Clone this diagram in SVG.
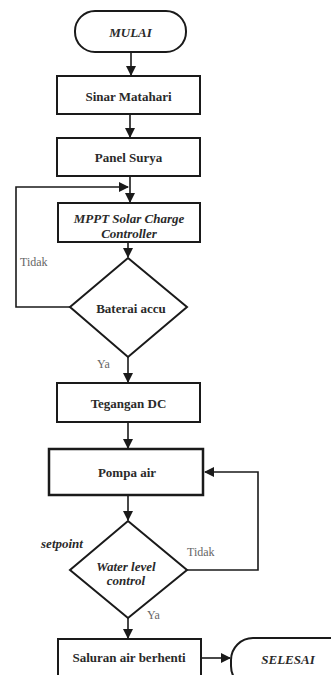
<svg xmlns="http://www.w3.org/2000/svg" width="331" height="675" viewBox="0 0 331 675">
<style>
.box{fill:#fff;stroke:#1a1a1a;stroke-width:2}
.t{font-family:'Liberation Serif','DejaVu Serif',serif;font-weight:bold;font-size:13px;fill:#2a2a2a;text-anchor:middle;dominant-baseline:central}
.i{font-style:italic}
.lbl{font-family:'Liberation Serif','DejaVu Serif',serif;font-size:12px;fill:#666;dominant-baseline:central}
.c{fill:none;stroke:#1a1a1a;stroke-width:1.6}
</style>
<defs>
<marker id="ah" markerWidth="10" markerHeight="10" refX="9" refY="5" orient="auto" markerUnits="userSpaceOnUse">
<path d="M0,0 L10,5 L0,10 z" fill="#1a1a1a"/>
</marker>
</defs>
<rect width="331" height="675" fill="#fff"/>
<g id="connectors">
<path class="c" d="M131,52 V75" marker-end="url(#ah)"/>
<path class="c" d="M130,114 V137" marker-end="url(#ah)"/>
<path class="c" d="M130,176 V202" marker-end="url(#ah)"/>
<path class="c" d="M70,307 H16 V187 H128" marker-end="url(#ah)"/>
<path class="c" d="M128,242 V257" marker-end="url(#ah)"/>
<path class="c" d="M128,357 V382" marker-end="url(#ah)"/>
<path class="c" d="M128,422 V448" marker-end="url(#ah)"/>
<path class="c" d="M128,495 V520" marker-end="url(#ah)"/>
<path class="c" d="M187,570 H258 V472 H205" marker-end="url(#ah)"/>
<path class="c" d="M128,618 V638" marker-end="url(#ah)"/>
<path class="c" d="M202,658 H230" marker-end="url(#ah)"/>
<text class="lbl" x="20" y="262">Tidak</text>
<text class="lbl" x="97" y="364">Ya</text>
<text class="lbl" x="187" y="552">Tidak</text>
<text class="lbl" x="147" y="615">Ya</text>
</g>
<g id="mulai">
<rect class="box" x="75" y="11" width="111" height="41" rx="20"/>
<text class="t i" x="130.5" y="32">MULAI</text>
</g>
<g id="sinar">
<rect class="box" x="57" y="76" width="143" height="38"/>
<text class="t" x="128.5" y="96">Sinar Matahari</text>
</g>
<g id="panel">
<rect class="box" x="57" y="138" width="143" height="38"/>
<text class="t" x="128.5" y="157">Panel Surya</text>
</g>
<g id="mppt">
<rect class="box" x="58" y="203" width="142" height="39"/>
<text class="t i" x="129" y="218">MPPT Solar Charge</text>
<text class="t i" x="129" y="233">Controller</text>
</g>
<g id="baterai">
<path class="box" d="M128,258 L187,307 L128,357 L70,307 Z"/>
<text class="t" x="131" y="308">Baterai accu</text>
</g>
<g id="tegangan">
<rect class="box" x="57" y="383" width="143" height="39"/>
<text class="t" x="128.5" y="403">Tegangan DC</text>
</g>
<g id="pompa">
<rect class="box" x="49" y="449" width="154" height="46" style="stroke-width:2.5"/>
<text class="t" x="127" y="472">Pompa air</text>
</g>
<g id="water">
<path class="box" d="M128,521 L187,570 L128,618 L70,570 Z"/>
<text class="t i" x="126" y="566">Water level</text>
<text class="t i" x="126" y="580">control</text>
</g>
<text class="t i" x="62" y="543">setpoint</text>
<g id="saluran">
<rect class="box" x="58" y="639" width="143" height="50"/>
<text class="t" x="129" y="657">Saluran air berhenti</text>
</g>
<g id="selesai">
<rect class="box" x="231" y="638" width="130" height="50" rx="22"/>
<text class="t i" x="288" y="659">SELESAI</text>
</g>
</svg>
